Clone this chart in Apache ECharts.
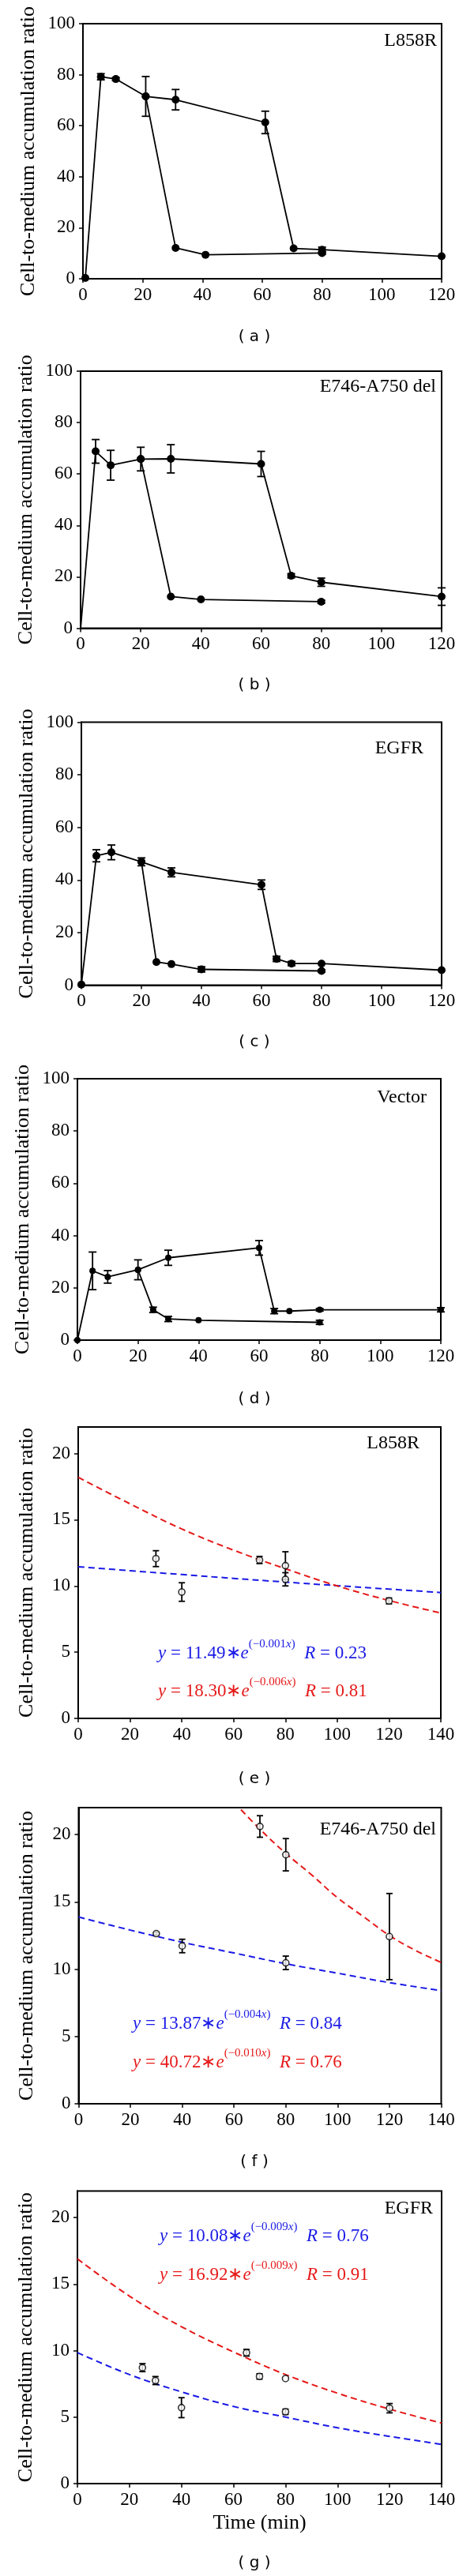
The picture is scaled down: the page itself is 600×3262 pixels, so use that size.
<!DOCTYPE html>
<html>
<head>
<meta charset="utf-8">
<script src="https://cdn.jsdelivr.net/npm/echarts@6/dist/echarts.min.js"></script>
<style>
html,body{margin:0;padding:0;background:#fff;}
#chart{width:600px;height:3262px;}
</style>
</head>
<body>
<div id="chart"></div>
<script>
// ---------- DATA ----------
// Panel (a) L858R
const aPulseX = [0.8, 6, 11, 21, 31, 41, 80];
const aPulseY = [0.3, 79.2, 78.3, 71.5, 12.1, 9.4, 10.1];
const aPulseErr = [0, 1.2, 0.6, 7.8, 0, 0, 0.5];
const aChaseX = [21, 31, 61, 70.5, 80, 120];
const aChaseY = [71.5, 70.2, 61.3, 11.9, 11.4, 8.8];
const aChaseErr = [0, 4.0, 4.4, 0, 1.0, 0];
// Panel (b) E746-A750 del
const bPulseX = [0, 5, 10, 20, 30, 40, 80];
const bPulseY = [-0.3, 68.8, 63.4, 65.8, 12.3, 11.2, 10.3];
const bPulseErr = [0, 4.6, 5.8, 4.6, 0, 0, 0.6];
const bChaseX = [20, 30, 60, 70, 80, 120];
const bChaseY = [65.8, 65.9, 63.9, 20.4, 17.9, 12.3];
const bChaseErr = [0, 5.5, 4.9, 0.8, 1.6, 3.4];
// Panel (c) EGFR
const cPulseX = [0, 5, 10, 20, 25, 30, 40, 80];
const cPulseY = [0.2, 49.2, 50.5, 46.9, 8.8, 8.0, 6.0, 5.4];
const cPulseErr = [0, 2.3, 2.8, 1.5, 0, 0, 1.0, 0.5];
const cChaseX = [20, 30, 60, 65, 70, 80, 120];
const cChaseY = [46.9, 42.9, 38.2, 10.0, 8.2, 8.2, 5.7];
const cChaseErr = [0, 1.7, 1.8, 1.0, 0.8, 0, 0];
// Panel (d) Vector
const dPulseX = [0, 5, 10, 20, 25, 30, 40, 80];
const dPulseY = [0, 26.5, 24.2, 26.9, 11.6, 8.1, 7.6, 6.8];
const dPulseErr = [0, 7.2, 2.4, 3.8, 1.0, 1.0, 0, 0.8];
const dChaseX = [20, 30, 60, 65, 70, 80, 120];
const dChaseY = [26.9, 31.5, 35.3, 11.1, 11.1, 11.6, 11.6];
const dChaseErr = [0, 2.9, 2.8, 1.0, 0, 0.5, 0.8];
// Panel (e) L858R fits
const eX = [30, 40, 70, 80, 80, 120];
const eY = [12.06, 9.54, 11.96, 11.53, 10.5, 8.87];
const eErr = [0.6, 0.7, 0.27, 1.05, 0.5, 0.22];
const fitX = [0, 20, 40, 60, 80, 100, 120, 140];
const eBlue = [11.45, 11.15, 10.86, 10.57, 10.29, 10.02, 9.76, 9.5];
const eRed = [18.2, 16.2, 14.3, 12.7, 11.3, 10.0, 8.9, 7.95];
// Panel (f) E746-A750 del fits
const fX = [30, 40, 70, 80, 80, 120];
const fY = [12.64, 11.72, 20.6, 18.5, 10.47, 12.42];
const fErr = [0.1, 0.5, 0.8, 1.2, 0.5, 3.2];
const fBlue = [13.87, 12.9, 12.0, 11.2, 10.4, 9.7, 9.0, 8.4];
const fRedX = [60, 70, 80, 90, 100, 110, 120, 130, 140];
const fRed = [22.4, 20.4, 18.6, 17.0, 15.3, 13.9, 12.5, 11.4, 10.5];
// Panel (g) EGFR fits
const gX = [25, 30, 40, 65, 70, 80, 80, 120];
const gY = [8.72, 7.75, 5.71, 9.84, 8.06, 7.9, 5.4, 5.67];
const gErr = [0.3, 0.3, 0.75, 0.25, 0.2, 0, 0.2, 0.35];
const gBlue = [9.85, 8.2, 6.9, 5.8, 5.0, 4.2, 3.55, 2.95];
const gRed = [16.9, 14.1, 11.8, 9.9, 8.2, 6.8, 5.6, 4.55];

// Text
const panelLabels = ['L858R', 'E746-A750 del', 'EGFR', 'Vector', 'L858R', 'E746-A750 del', 'EGFR'];
const captions = ['( a )', '( b )', '( c )', '( d )', '( e )', '( f )', '( g )'];
const yTitle = 'Cell-to-medium accumulation ratio';
const xTitle = 'Time (min)';
const eqBlue = [['11.49', '0.001', '0.23'], ['13.87', '0.004', '0.84'], ['10.08', '0.009', '0.76']];
const eqRed = [['18.30', '0.006', '0.81'], ['40.72', '0.010', '0.76'], ['16.92', '0.009', '0.91']];

// ---------- LAYOUT ----------
const grids = [
  {left: 105, top: 30, width: 454, height: 323},
  {left: 102, top: 470, width: 457, height: 325.5},
  {left: 103, top: 914.5, width: 456, height: 333},
  {left: 98, top: 1366, width: 460, height: 331},
  {left: 99, top: 1807, width: 459, height: 369},
  {left: 99.5, top: 2289, width: 459, height: 375},
  {left: 98, top: 2774.5, width: 461, height: 370.5}
];
const labelPos = [
  {right: 47, top: 40}, {right: 48, top: 478}, {right: 64, top: 936}, {right: 60, top: 1378},
  {right: 69, top: 1816}, {right: 48, top: 2305}, {right: 52, top: 2785}
];
const captionTop = [416, 857, 1309, 1761, 2242, 2727, 3235];
const eqPos = [
  {left: 200, topB: 2075, topR: 2123},
  {left: 168, topB: 2544, topR: 2593},
  {left: 202, topB: 2813, topR: 2862}
];

const SERIF = 'Liberation Serif';
const BLUE = '#1a1ae6';
const RED = '#e61a1a';

function zip(xs, ys) { return xs.map((x, i) => [x, ys[i]]); }
function zip3(xs, ys, es) { return xs.map((x, i) => [x, ys[i], es[i]]); }

function xAxis(gi, max, name) {
  const ax = {
    type: 'value', gridIndex: gi, min: 0, max: max, interval: 20,
    axisLine: {show: true, onZero: false, lineStyle: {color: '#000', width: 2}},
    axisTick: {show: true, inside: false, length: 5, lineStyle: {color: '#000', width: 1.5}},
    axisLabel: {color: '#000', fontFamily: SERIF, fontSize: 23, fontWeight: 'normal', margin: 9},
    splitLine: {show: false}
  };
  if (name) {
    ax.name = name; ax.nameLocation = 'middle'; ax.nameGap = 37;
    ax.nameTextStyle = {color: '#000', fontFamily: SERIF, fontSize: 26, fontWeight: 'normal'};
  }
  return ax;
}
function yAxis(gi, max, interval) {
  return {
    type: 'value', gridIndex: gi, min: 0, max: max, interval: interval,
    name: yTitle, nameLocation: 'middle', nameGap: 52,
    nameTextStyle: {color: '#000', fontFamily: SERIF, fontSize: 26, fontWeight: 'normal'},
    axisLine: {show: true, onZero: false, lineStyle: {color: '#000', width: 2}},
    axisTick: {show: true, inside: false, length: 5, lineStyle: {color: '#000', width: 1.5}},
    axisLabel: {color: '#000', fontFamily: SERIF, fontSize: 23, fontWeight: 'normal', margin: 10, showMaxLabel: max % interval === 0},
    splitLine: {show: false}
  };
}
function errSeries(gi, xs, ys, es, hw) {
  return {
    type: 'custom', xAxisIndex: gi, yAxisIndex: gi, z: 3, silent: true,
    encode: {x: 0, y: 1},
    data: zip3(xs, ys, es),
    renderItem: function (params, api) {
      const x = api.value(0), y = api.value(1), e = api.value(2);
      if (!e) return null;
      const t = api.coord([x, y + e]), b = api.coord([x, y - e]);
      const st = {stroke: '#000', lineWidth: 1.8};
      return {type: 'group', children: [
        {type: 'line', shape: {x1: t[0], y1: t[1], x2: b[0], y2: b[1]}, style: st},
        {type: 'line', shape: {x1: t[0] - hw, y1: t[1], x2: t[0] + hw, y2: t[1]}, style: st},
        {type: 'line', shape: {x1: b[0] - hw, y1: b[1], x2: b[0] + hw, y2: b[1]}, style: st}
      ]};
    }
  };
}
function dataLine(gi, xs, ys, size) {
  return {
    type: 'line', xAxisIndex: gi, yAxisIndex: gi, z: 4, silent: true,
    data: zip(xs, ys), symbol: 'circle', symbolSize: size, showSymbol: true,
    itemStyle: {color: '#000'}, lineStyle: {color: '#000', width: 1.8}, animation: false
  };
}
function hollow(gi, xs, ys) {
  return {
    type: 'scatter', xAxisIndex: gi, yAxisIndex: gi, z: 5, silent: true,
    data: zip(xs, ys), symbol: 'circle', symbolSize: 8,
    itemStyle: {color: '#fff', borderColor: '#000', borderWidth: 1.6}
  };
}
function fit(gi, xs, ys, color) {
  return {
    type: 'line', xAxisIndex: gi, yAxisIndex: gi, z: 2, silent: true,
    data: zip(xs, ys), smooth: 0.4, symbol: 'none', clip: true,
    lineStyle: {color: color, width: 2, type: [8, 5]}
  };
}
function eqText(vals) {
  return '{i|y}{n| = ' + vals[0] + '\u2217}{i|e}{s|(\u2212' + vals[1] + '}{si|x}{s|)}{n|  }{i|R}{n| = ' + vals[2] + '}';
}
function eqStyle(color) {
  const base = {color: color, fontFamily: SERIF, fontWeight: 'normal'};
  return {
    color: color, fontFamily: SERIF, fontSize: 23, fontWeight: 'normal',
    rich: {
      i: Object.assign({fontSize: 23, fontStyle: 'italic', lineHeight: 30, verticalAlign: 'bottom'}, base),
      n: Object.assign({fontSize: 23, lineHeight: 30, verticalAlign: 'bottom'}, base),
      s: Object.assign({fontSize: 15, lineHeight: 15, verticalAlign: 'top'}, base),
      si: Object.assign({fontSize: 15, fontStyle: 'italic', lineHeight: 15, verticalAlign: 'top'}, base)
    }
  };
}

const gridOpts = grids.map(g => Object.assign({show: true, borderColor: '#000', borderWidth: 2, backgroundColor: 'transparent', containLabel: false}, g));
const xAxes = [0, 1, 2, 3].map(i => xAxis(i, 120)).concat([xAxis(4, 140), xAxis(5, 140), xAxis(6, 140, xTitle)]);
const yAxes = [0, 1, 2, 3].map(i => yAxis(i, 100, 20)).concat([yAxis(4, 22, 5), yAxis(5, 22, 5), yAxis(6, 22, 5)]);

const series = [];
const pulse = [[aPulseX, aPulseY, aPulseErr], [bPulseX, bPulseY, bPulseErr], [cPulseX, cPulseY, cPulseErr], [dPulseX, dPulseY, dPulseErr]];
const chase = [[aChaseX, aChaseY, aChaseErr], [bChaseX, bChaseY, bChaseErr], [cChaseX, cChaseY, cChaseErr], [dChaseX, dChaseY, dChaseErr]];
const symSizes = [10, 10, 10, 8];
for (let i = 0; i < 4; i++) {
  series.push(errSeries(i, pulse[i][0], pulse[i][1], pulse[i][2], 5));
  series.push(errSeries(i, chase[i][0], chase[i][1], chase[i][2], 5));
  series.push(dataLine(i, pulse[i][0], pulse[i][1], symSizes[i]));
  series.push(dataLine(i, chase[i][0], chase[i][1], symSizes[i]));
}
series.push(fit(4, fitX, eBlue, BLUE), fit(4, fitX, eRed, RED), errSeries(4, eX, eY, eErr, 4), hollow(4, eX, eY));
series.push(fit(5, fitX, fBlue, BLUE), fit(5, fRedX, fRed, RED), errSeries(5, fX, fY, fErr, 4), hollow(5, fX, fY));
series.push(fit(6, fitX, gBlue, BLUE), fit(6, fitX, gRed, RED), errSeries(6, gX, gY, gErr, 4), hollow(6, gX, gY));

const titles = [];
panelLabels.forEach((t, i) => {
  titles.push({text: t, right: labelPos[i].right, top: labelPos[i].top, padding: 0,
    textStyle: {color: '#000', fontFamily: SERIF, fontSize: 24, fontWeight: 'normal', lineHeight: 24}});
});
captions.forEach((t, i) => {
  titles.push({text: t, left: 322, top: captionTop[i], textAlign: 'center', padding: 0,
    textStyle: {color: '#000', fontFamily: 'DejaVu Sans', fontSize: 20, fontWeight: 'normal', lineHeight: 22}});
});
eqPos.forEach((p, i) => {
  titles.push({text: eqText(eqBlue[i]), left: p.left, top: p.topB, padding: 0, textStyle: eqStyle(BLUE)});
  titles.push({text: eqText(eqRed[i]), left: p.left, top: p.topR, padding: 0, textStyle: eqStyle(RED)});
});

const chart = echarts.init(document.getElementById('chart'), null, {renderer: 'canvas'});
chart.setOption({
  animation: false,
  backgroundColor: '#fff',
  title: titles,
  grid: gridOpts,
  xAxis: xAxes,
  yAxis: yAxes,
  series: series
});
</script>
</body>
</html>
